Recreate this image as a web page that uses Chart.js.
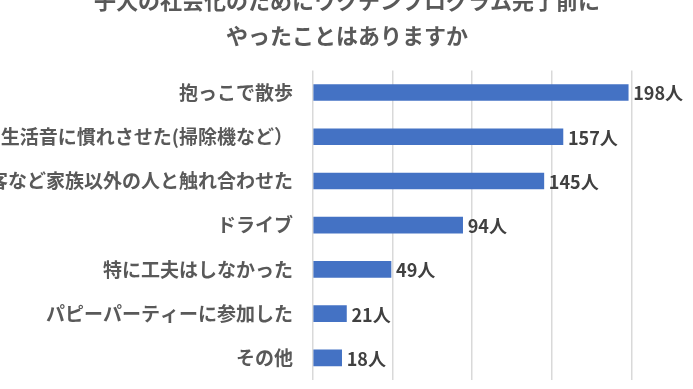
<!DOCTYPE html>
<html>
<head>
<meta charset="utf-8">
<script src="https://cdn.jsdelivr.net/npm/chart.js@4.4.0/dist/chart.umd.min.js"></script>
<style>
  html, body { margin: 0; padding: 0; background: #fff; }
  body { width: 693px; height: 389px; overflow: hidden; position: relative; }
  #myChart { position: absolute; left: -17px; top: -20px; }
</style>
</head>
<body>
<canvas id="myChart" width="728" height="409"></canvas>
<script>
// Datos del gráfico
const titleLines = ['子犬の社会化のためにワクチンプログラム完了前に', 'やったことはありますか'];
const categories = [
    '抱っこで散歩',
    '生活音に慣れさせた(掃除機など）',
    '来客など家族以外の人と触れ合わせた',
    'ドライブ',
    '特に工夫はしなかった',
    'パピーパーティーに参加した',
    'その他'
];
const values = [198, 157, 145, 94, 49, 21, 18];
const unit = '人';

const jpFont = '"Noto Sans CJK JP", "Noto Sans", sans-serif';

// Etiquetas de valor al final de cada barra
const valueLabels = {
    id: 'valueLabels',
    afterDatasetsDraw(chart) {
        const ctx = chart.ctx;
        const meta = chart.getDatasetMeta(0);
        ctx.save();
        ctx.font = 'bold 18px ' + jpFont;
        ctx.fillStyle = '#404040';
        ctx.textAlign = 'left';
        ctx.textBaseline = 'middle';
        meta.data.forEach((bar, i) => {
            ctx.fillText(values[i] + unit, bar.x + 5, bar.y + 1);
        });
        ctx.restore();
    }
};

const ctx = document.getElementById('myChart').getContext('2d');
const chart = new Chart(ctx, {
    type: 'bar',
    data: {
        labels: categories,
        datasets: [{
            data: values,
            backgroundColor: '#4472C4',
            borderWidth: 0,
            barThickness: 16
        }]
    },
    options: {
        indexAxis: 'y',
        responsive: false,
        animation: false,
        layout: { padding: { left: 0, right: 0, top: 0, bottom: 9 } },
        plugins: {
            legend: { display: false },
            tooltip: { enabled: false },
            title: {
                display: true,
                text: titleLines,
                color: '#595959',
                font: { family: jpFont, size: 22, weight: 'bold', lineHeight: 1.6 },
                padding: { top: 3, bottom: 17 }
            }
        },
        scales: {
            x: {
                min: 0,
                max: 250,
                ticks: { display: false, stepSize: 50 },
                grid: { color: '#d9d9d9', lineWidth: 1.5, drawTicks: false },
                border: { display: false },
                afterFit(scale) { scale.height = 0; }
            },
            y: {
                grid: { display: false, drawTicks: false },
                border: { display: false },
                ticks: {
                    color: '#595959',
                    padding: 20,
                    font: { family: jpFont, size: 19, weight: 'bold' }
                },
                afterFit(scale) {
                    scale.width = 330;
                    scale.paddingTop = 0;
                    scale.paddingBottom = 0;
                }
            }
        }
    },
    plugins: [valueLabels]
});
</script>
</body>
</html>
